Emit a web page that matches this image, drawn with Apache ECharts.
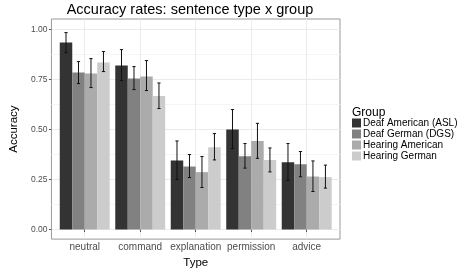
<!DOCTYPE html>
<html><head><meta charset="utf-8">
<script src="https://cdn.jsdelivr.net/npm/echarts@6/dist/echarts.min.js"></script>
<style>html,body{margin:0;padding:0;background:#fff}#c{width:459px;height:274px}</style>
</head><body><div id="c"></div>
<script>
const categories = ['neutral', 'command', 'explanation', 'permission', 'advice'];
const groups = ['Deaf American (ASL)', 'Deaf German (DGS)', 'Hearing American', 'Hearing German'];
const groupColors = ['#333333', '#818181', '#ababab', '#cccccc'];

const accASL  = [0.935, 0.820, 0.345, 0.500, 0.337];
const lowASL  = [0.885, 0.745, 0.250, 0.405, 0.246];
const highASL = [0.985, 0.900, 0.443, 0.600, 0.430];

const accDGS  = [0.785, 0.755, 0.315, 0.367, 0.327];
const lowDGS  = [0.730, 0.700, 0.260, 0.307, 0.264];
const highDGS = [0.840, 0.815, 0.375, 0.430, 0.390];

const accHA   = [0.780, 0.765, 0.287, 0.443, 0.265];
const lowHA   = [0.710, 0.695, 0.210, 0.356, 0.190];
const highHA  = [0.855, 0.845, 0.365, 0.531, 0.343];

const accHG   = [0.835, 0.668, 0.412, 0.348, 0.262];
const lowHG   = [0.790, 0.605, 0.348, 0.288, 0.207];
const highHG  = [0.890, 0.733, 0.480, 0.408, 0.322];

const yTicks = [0, 0.25, 0.5, 0.75, 1.0];
const yTickLabels = ['0.00', '0.25', '0.50', '0.75', '1.00'];
const yMinorTicks = [0.125, 0.375, 0.625, 0.875];

const accs = [accASL, accDGS, accHA, accHG];
const lows = [lowASL, lowDGS, lowHA, lowHG];
const highs = [highASL, highDGS, highHA, highHG];

const FONT = 'Liberation Sans';
const dodge = 0.9;
const nG = groups.length;
const bw = dodge / nG;

function barRender(g) {
  return function (params, api) {
    const xc = api.value(0), v = api.value(1);
    const x0 = xc - dodge / 2 + g * bw;
    const p0 = api.coord([x0, 0]);
    const p1 = api.coord([x0 + bw, v]);
    return { type: 'rect',
      shape: { x: p0[0], y: p1[1], width: p1[0] - p0[0], height: p0[1] - p1[1] },
      style: api.style() };
  };
}
function errRender(g) {
  return function (params, api) {
    const xc = api.value(0) - dodge / 2 + (g + 0.5) * bw;
    const lo = api.value(1), hi = api.value(2);
    const a = api.coord([xc, lo]), b = api.coord([xc, hi]);
    const cap = 1.6;
    const st = { stroke: '#111', lineWidth: 1 };
    return { type: 'group', children: [
      { type: 'line', shape: { x1: a[0], y1: a[1], x2: b[0], y2: b[1] }, style: st },
      { type: 'line', shape: { x1: a[0] - cap, y1: a[1], x2: a[0] + cap, y2: a[1] }, style: st },
      { type: 'line', shape: { x1: b[0] - cap, y1: b[1], x2: b[0] + cap, y2: b[1] }, style: st }
    ]};
  };
}

const series = [];
groups.forEach((name, g) => {
  series.push({
    name: name, type: 'custom', renderItem: barRender(g),
    itemStyle: { color: groupColors[g] }, color: groupColors[g],
    encode: { x: 0, y: 1 },
    data: categories.map((c, i) => [i + 1, accs[g][i]]), z: 2, silent: true
  });
});
groups.forEach((name, g) => {
  series.push({
    name: name + ' err', type: 'custom', renderItem: errRender(g),
    encode: { x: 0, y: [1, 2] },
    data: categories.map((c, i) => [i + 1, lows[g][i], highs[g][i]]), z: 3, silent: true
  });
});

const chart = echarts.init(document.getElementById('c'), null, { renderer: 'canvas' });
chart.setOption({
  animation: false,
  backgroundColor: '#fff',
  textStyle: { fontFamily: FONT },
  grid: { left: 39, right: 119, top: 19, bottom: 28, show: true, borderColor: '#999999', borderWidth: 1, backgroundColor: '#fff' },
  graphic: [
    { type: 'text', x: 190, y: 10, style: { text: 'Accuracy rates: sentence type x group', font: '14.5px "Liberation Sans"', fill: '#000', textAlign: 'center', textVerticalAlign: 'middle' } },
    { type: 'text', x: 352, y: 113, style: { text: 'Group', font: '12px "Liberation Sans"', fill: '#000', textAlign: 'left', textVerticalAlign: 'middle' } }
  ],
  legend: {
    data: groups, orient: 'vertical', left: 352, top: 118, padding: 0,
    icon: 'rect', itemWidth: 9, itemHeight: 9, itemGap: 1,
    textStyle: { fontSize: 10, fontFamily: FONT, color: '#000', lineHeight: 10, padding: [0, 0, 0, -3] },
    selectedMode: false
  },
  xAxis: {
    type: 'value', min: 0.4, max: 5.6,
    name: 'Type', nameLocation: 'middle', nameGap: 13,
    nameTextStyle: { fontSize: 11.5, color: '#000', fontFamily: FONT },
    axisLine: { show: false },
    axisTick: { show: true, length: 2.5, lineStyle: { color: '#555' }, customValues: categories.map((c, i) => i + 1) },
    axisLabel: { fontSize: 10, color: '#4d4d4d', margin: 3, customValues: categories.map((c, i) => i + 1),
      formatter: v => categories[Math.round(v) - 1] || '' },
    splitLine: { show: true, lineStyle: { color: '#ebebeb', width: 1 } }
  },
  yAxis: [{
    type: 'value', min: -0.048, max: 1.053,
    name: 'Accuracy', nameLocation: 'middle', nameGap: 25, nameRotate: 90,
    nameTextStyle: { fontSize: 11.5, color: '#000', fontFamily: FONT },
    axisLine: { show: false },
    axisTick: { show: true, length: 2.5, lineStyle: { color: '#555' }, customValues: yTicks },
    axisLabel: { fontSize: 8.5, color: '#4d4d4d', margin: 4, customValues: yTicks,
      formatter: v => { const k = yTicks.findIndex(t => Math.abs(t - v) < 1e-6); return k >= 0 ? yTickLabels[k] : ''; } },
    splitLine: { show: true, lineStyle: { color: '#ebebeb', width: 1 } }
  }, {
    type: 'value', min: -0.048, max: 1.053, position: 'left',
    axisLine: { show: false }, axisLabel: { show: false },
    axisTick: { show: false, customValues: yMinorTicks },
    splitLine: { show: true, lineStyle: { color: '#f5f5f5', width: 1 } }
  }],
  series: series
});
</script></body></html>
